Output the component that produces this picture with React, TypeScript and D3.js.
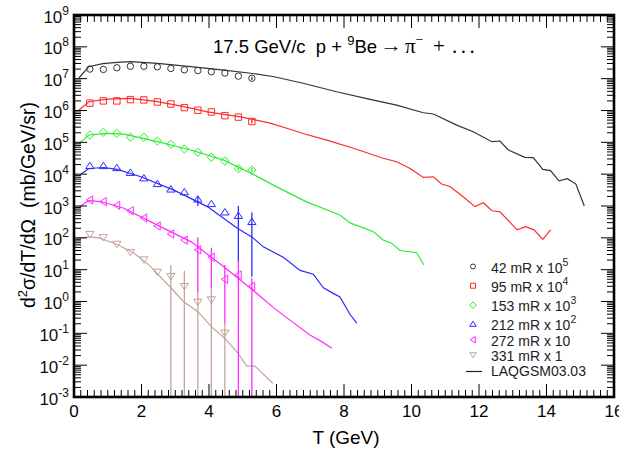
import React, { useEffect, useRef } from 'react';
import * as d3 from 'd3';

// kinetic energy bins of the measured points (GeV)
const tExp = [0.47, 0.87, 1.27, 1.67, 2.07, 2.47, 2.87, 3.27, 3.67, 4.07, 4.47, 4.87, 5.27];

// measured d2sigma/dT/dOmega, already multiplied by the legend factor
const exp42 = [2.0e7, 1.95e7, 2.2e7, 2.45e7, 2.45e7, 2.35e7, 2.1e7, 1.9e7, 1.8e7, 1.65e7, 1.5e7, 1.2e7, 1.03e7];
const exp95 = [1.7e6, 2.0e6, 2.0e6, 2.2e6, 2.15e6, 1.85e6, 1.6e6, 1.23e6, 1.02e6, 9.0e5, 6.9e5, 6.2e5, 4.5e5];
const exp153 = [1.7e5, 2.07e5, 1.9e5, 1.45e5, 1.45e5, 1.1e5, 8.7e4, 6.2e4, 4.9e4, 3.4e4, 2.6e4, 1.5e4, 1.35e4];
const exp212 = [1.8e4, 1.8e4, 1.55e4, 1.1e4, 7.4e3, 4.9e3, 3.3e3, 2.7e3, 1.6e3, 1.15e3, 630, 490, 316];
const exp272 = [1550, 1365, 1050, 710, 420, 235, 132, 85, 42, 24.5, 5.0, 6.8, 3.0];
const exp331 = [132, 105, 65, 36, 21, 8.6, 6.3, 3.06, 0.98, 1.17, 0.105];

// error bars [low, high], null = smaller than the marker
const err42 = [null, null, null, null, null, null, null, null, null, null, null, null, [9.0e6, 1.15e7]];
const err95 = [null, null, null, null, null, null, null, null, null, null, null, null, [3.9e5, 5.2e5]];
const err153 = [null, null, null, null, null, null, null, null, null, null, null, [1.3e4, 1.75e4], [1.15e4, 1.6e4]];
const err212 = [null, null, null, null, null, null, null, null, [1000, 2040], null, null, [18, 1000], [6, 620]];
const err272 = [null, null, null, null, null, null, null, null, [2.0, 105], [2.6, 49], [0.2, 14], [1e-4, 18], [1e-4, 5.5]];
const err331 = [null, null, null, null, null, null, [1e-4, 14], [1e-4, 9.3], [1e-4, 2.0], [1e-4, 2.6], [1e-4, 0.2]];

// LAQGSM03.03 curves
const mod42T = [0.15, 0.44, 0.85, 1.28, 1.68, 2.47, 3.46, 4.44, 5.24, 5.93, 6.79, 7.78, 8.77, 9.56, 10.35, 10.65, 11.34, 11.83, 12.38, 12.62, 12.87, 13.36, 13.61, 13.89, 14.12, 14.37, 14.62, 14.87, 15.12];
const mod42 = [1.07e7, 2.38e7, 2.95e7, 3.27e7, 3.41e7, 3.02e7, 2.38e7, 1.86e7, 1.48e7, 1.15e7, 7.16e6, 3.89e6, 2.24e6, 1.48e6, 8.5e5, 7.76e5, 3.47e5, 2.14e5, 1.05e5, 1.1e5, 5.75e4, 3.39e4, 3.31e4, 1.41e4, 1.29e4, 6.17e3, 7.24e3, 4.9e3, 1.0e3];

const mod95T = [0.15, 0.44, 0.99, 1.68, 2.47, 3.26, 3.95, 4.94, 5.81, 6.4, 6.79, 7.49, 8.28, 9.16, 9.56, 9.96, 10.35, 10.65, 10.89, 11.14, 11.53, 11.88, 12.13, 12.38, 12.62, 12.9, 13.13, 13.38, 13.63, 13.89, 14.12];
const mod95 = [1.04e6, 1.89e6, 2.29e6, 2.4e6, 1.9e6, 1.32e6, 9.1e5, 6.3e5, 4.0e5, 2.57e5, 1.9e5, 1.17e5, 6.5e4, 3.16e4, 2.45e4, 1.51e4, 7.9e3, 8.3e3, 4.9e3, 4.1e3, 1.95e3, 955, 1260, 708, 660, 324, 178, 224, 178, 89, 178];

const mod153T = [0.15, 0.44, 0.99, 1.48, 2.47, 3.46, 4.44, 5.3, 5.99, 6.89, 7.88, 8.18, 8.87, 9.16, 9.41, 9.66, 10.15, 10.37];
const mod153 = [9.3e4, 1.7e5, 1.9e5, 1.82e5, 1.05e5, 5.75e4, 2.75e4, 1.0e4, 4.07e3, 1.35e3, 525, 295, 155, 85, 68, 40, 34, 14];

const mod212T = [0.2, 0.44, 0.89, 1.28, 1.98, 2.96, 3.95, 4.84, 5.28, 5.61, 6.2, 6.7, 7.09, 7.39, 7.68, 7.88, 8.18, 8.38];
const mod212 = [1.0e4, 1.51e4, 1.62e4, 1.41e4, 8.3e3, 3.16e3, 955, 200, 105, 52, 24.5, 9.5, 7.2, 2.7, 1.8, 1.38, 0.39, 0.21];

const mod272T = [0.1, 0.44, 0.79, 1.48, 2.47, 3.46, 4.44, 5.24, 5.93, 6.4, 6.99, 7.29, 7.64];
const mod272 = [850, 1480, 1380, 850, 251, 76, 12.3, 2.57, 0.62, 0.26, 0.089, 0.059, 0.034];

const mod331T = [0.1, 0.44, 0.74, 1.26, 1.76, 2.25, 2.84, 3.24, 3.67, 4.07, 4.47, 4.85, 5.12, 5.36, 5.89];
const mod331 = [95, 107, 100, 63, 34, 13.2, 2.9, 1.0, 0.48, 0.162, 0.069, 0.0245, 0.0093, 0.0093, 0.0027];

const legendNames = ['42 mR x 10', '95 mR x 10', '153 mR x 10', '212 mR x 10', '272 mR x 10', '331 mR x 1'];
const legendPowers = ['5', '4', '3', '2', '', ''];
const colors = ['#333333', '#ff2a2a', '#2aee2a', '#2a2aff', '#ff2aff', '#c4a49c'];
const markers = ['circle', 'square', 'diamond', 'up', 'left', 'down'];

const xTickLabels = [0, 2, 4, 6, 8, 10, 12, 14, 16];
const yExponents = [-3, -2, -1, 0, 1, 2, 3, 4, 5, 6, 7, 8, 9];

const FONT = "'Liberation Sans', Arial, sans-serif";
const SERIF = "'Liberation Serif', 'DejaVu Serif', serif";

// marker outlines centred on 0,0
function markerPath(kind, s) {
  if (kind === 'circle') return d3.symbol(d3.symbolCircle, Math.PI * s * s)();
  if (kind === 'square') return `M${-s},${-s}H${s}V${s}H${-s}Z`;
  if (kind === 'diamond') return `M0,${-s * 1.3}L${s * 1.3},0L0,${s * 1.3}L${-s * 1.3},0Z`;
  if (kind === 'up') return `M0,${-s * 1.2}L${s * 1.3},${s * 0.8}L${-s * 1.3},${s * 0.8}Z`;
  if (kind === 'down') return `M0,${s * 1.2}L${s * 1.3},${-s * 0.8}L${-s * 1.3},${-s * 0.8}Z`;
  return `M${-s * 1.1},0L${s * 0.9},${-s * 1.3}L${s * 0.9},${s * 1.3}Z`; // left
}

const App = () => {
  const svgRef = useRef();

  useEffect(() => {
    const svg = d3.select(svgRef.current);
    svg.selectAll('*').remove();

    const left = 74, right = 614, top = 15, bottom = 397;
    const x = d3.scaleLinear().domain([0, 16]).range([left, right]);
    const y = d3.scaleLog().domain([1e-3, 1e9]).range([bottom, top]);

    const series = [
      { y: exp42, err: err42, mt: mod42T, mv: mod42 },
      { y: exp95, err: err95, mt: mod95T, mv: mod95 },
      { y: exp153, err: err153, mt: mod153T, mv: mod153 },
      { y: exp212, err: err212, mt: mod212T, mv: mod212 },
      { y: exp272, err: err272, mt: mod272T, mv: mod272 },
      { y: exp331, err: err331, mt: mod331T, mv: mod331 },
    ];

    svg.append('defs').append('clipPath').attr('id', 'plotclip')
      .append('rect').attr('x', left).attr('y', top)
      .attr('width', right - left).attr('height', bottom - top);

    const plot = svg.append('g').attr('clip-path', 'url(#plotclip)');

    // model curves
    const line = d3.line().x(d => x(d[0])).y(d => y(d[1]));
    series.forEach((s, i) => {
      plot.append('path')
        .datum(s.mt.map((t, j) => [t, s.mv[j]]))
        .attr('d', line)
        .attr('fill', 'none')
        .attr('stroke', colors[i])
        .attr('stroke-width', 1.2);
    });

    // error bars, drawn in reverse so the upper series sit on top
    series.slice().reverse().forEach((s, ri) => {
      const i = series.length - 1 - ri;
      s.err.forEach((e, j) => {
        if (!e) return;
        plot.append('line')
          .attr('x1', x(tExp[j])).attr('x2', x(tExp[j]))
          .attr('y1', Math.min(y(e[0]), bottom + 5)).attr('y2', y(e[1]))
          .attr('stroke', colors[i]).attr('stroke-width', 1.3);
      });
    });

    // data markers
    series.forEach((s, i) => {
      plot.selectAll(null).data(s.y).enter().append('path')
        .attr('transform', (d, j) => `translate(${x(tExp[j])},${y(d)})`)
        .attr('d', markerPath(markers[i], 3.2))
        .attr('fill', 'none')
        .attr('stroke', colors[i])
        .attr('stroke-width', 1);
    });

    // ticks (inside the frame)
    const axes = svg.append('g').attr('stroke', '#000').attr('stroke-width', 1);
    d3.range(0, 80.5, 1).forEach(k => {
      const v = k * 0.2;
      const len = k % 10 === 0 ? 13 : 7;
      axes.append('line').attr('x1', x(v)).attr('x2', x(v)).attr('y1', bottom).attr('y2', bottom - len);
      axes.append('line').attr('x1', x(v)).attr('x2', x(v)).attr('y1', top).attr('y2', top + len);
    });
    yExponents.forEach(p => {
      const v = Math.pow(10, p);
      axes.append('line').attr('x1', left).attr('x2', left + 13).attr('y1', y(v)).attr('y2', y(v));
      axes.append('line').attr('x1', right).attr('x2', right - 13).attr('y1', y(v)).attr('y2', y(v));
      if (p === 9) return;
      for (let m = 2; m < 10; m++) {
        const vv = m * v;
        axes.append('line').attr('x1', left).attr('x2', left + 7).attr('y1', y(vv)).attr('y2', y(vv));
        axes.append('line').attr('x1', right).attr('x2', right - 7).attr('y1', y(vv)).attr('y2', y(vv));
      }
    });

    // frame
    svg.append('rect')
      .attr('x', left).attr('y', top)
      .attr('width', right - left).attr('height', bottom - top)
      .attr('fill', 'none').attr('stroke', '#000').attr('stroke-width', 2.6);

    // tick labels
    svg.selectAll(null).data(xTickLabels).enter().append('text')
      .attr('x', d => x(d)).attr('y', 417)
      .attr('text-anchor', 'middle')
      .style('font', `17px ${FONT}`)
      .text(d => d);

    yExponents.forEach(p => {
      const t = svg.append('text')
        .attr('x', 69).attr('y', y(Math.pow(10, p)) + 7.5)
        .attr('text-anchor', 'end')
        .style('font', `17px ${FONT}`)
        .attr('fill', '#111');
      t.append('tspan').text('10');
      t.append('tspan').attr('dy', -8).style('font-size', '12px').text(p < 0 ? `-${-p}` : p);
    });

    // axis titles
    svg.append('text')
      .attr('x', 346).attr('y', 444)
      .attr('text-anchor', 'middle')
      .style('font', `19px ${FONT}`)
      .text('T (GeV)');

    const yl = svg.append('text')
      .attr('transform', 'translate(35,205) rotate(-90)')
      .attr('text-anchor', 'middle')
      .style('font', `19.5px ${FONT}`)
      .style('white-space', 'pre');
    yl.append('tspan').text('d');
    yl.append('tspan').attr('dy', -8).style('font-size', '13px').text('2');
    yl.append('tspan').attr('dy', 8).text('σ/dT/dΩ  (mb/GeV/sr)');

    // title
    const title = svg.append('text')
      .attr('x', 213).attr('y', 53)
      .style('font', `18.5px ${FONT}`)
      .style('white-space', 'pre');
    title.append('tspan').text('17.5 GeV/c  p + ');
    title.append('tspan').attr('dy', -8).style('font-size', '13px').text('9');
    title.append('tspan').attr('dy', 8).text('Be');
    svg.append('text')
      .attr('x', 380).attr('y', 52)
      .attr('textLength', 22).attr('lengthAdjust', 'spacingAndGlyphs')
      .style('font', `19px ${SERIF}`)
      .text('→');
    const tail = svg.append('text')
      .attr('x', 405).attr('y', 53)
      .style('font', `21px ${SERIF}`)
      .style('white-space', 'pre');
    tail.append('tspan').text('π');
    tail.append('tspan').attr('dy', -9).style('font-size', '14px').text('−');
    tail.append('tspan').attr('x', 433).attr('dy', 9).text('+');
    tail.append('tspan').attr('x', 452).style('letter-spacing', '3.5px').text('...');

    // legend
    const legY = [272.5, 291.7, 311.2, 330.3, 345.7, 360.7];
    legendNames.forEach((name, i) => {
      svg.append('path')
        .attr('transform', `translate(473,${legY[i] - 6})`)
        .attr('d', markerPath(markers[i], 2.5))
        .attr('fill', 'none').attr('stroke', colors[i]).attr('stroke-width', 1);
      const t = svg.append('text')
        .attr('x', 491).attr('y', legY[i])
        .style('font', `14px ${FONT}`)
        .attr('fill', '#222');
      t.append('tspan').text(name);
      if (legendPowers[i]) t.append('tspan').attr('dy', -7).style('font-size', '10.5px').text(legendPowers[i]);
    });
    svg.append('line')
      .attr('x1', 466).attr('x2', 482).attr('y1', 371.5).attr('y2', 371.5)
      .attr('stroke', '#222').attr('stroke-width', 1.2);
    svg.append('text')
      .attr('x', 491).attr('y', 375.7)
      .style('font', `14px ${FONT}`)
      .attr('fill', '#222')
      .text('LAQGSM03.03');
  }, []);

  return (
    <svg ref={svgRef} width={619} height={451}
      style={{ position: 'absolute', left: 0, top: 0, background: '#fff' }} />
  );
};

export default App;
